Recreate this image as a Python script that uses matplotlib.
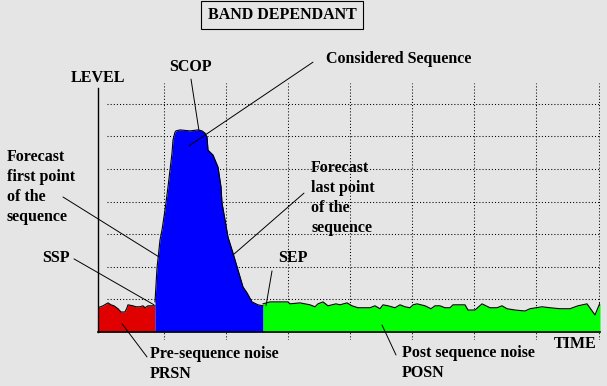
import matplotlib
matplotlib.use("Agg")
from matplotlib import pyplot as plt

# time in samples, level in grid units
pre_t = [0, 5, 10, 13, 16, 20, 23, 27, 29, 30, 35, 38, 42, 45, 47, 50, 55, 57]
pre_lv = [0.74, 0.80, 0.89, 0.83, 0.80, 0.71, 0.61, 0.61, 0.74, 0.83, 0.80, 0.77,
          0.77, 0.80, 0.74, 0.80, 0.80, 0.80]

seq_t = [57, 59, 62, 64, 67, 70, 72, 74, 75, 77, 78, 82, 92, 100, 104, 107, 109,
         110, 115, 120, 123, 124, 127, 130, 135, 140, 145, 149, 154, 160, 165]
seq_lv = [0.92, 1.96, 2.82, 3.13, 3.74, 4.45, 4.97, 5.49, 5.89, 6.13, 6.17, 6.20,
          6.17, 6.20, 6.17, 6.10, 5.98, 5.58, 5.43, 5.06, 4.45, 3.96, 3.44, 2.91,
          2.42, 1.90, 1.38, 1.20, 0.92, 0.83, 0.80]

post_t = [165, 172, 182, 190, 192, 202, 207, 212, 217, 220, 225, 230, 234, 238,
          242, 249, 254, 260, 272, 277, 282, 285, 290, 297, 302, 307, 312, 315,
          319, 327, 333, 337, 342, 347, 352, 355, 367, 370, 377, 384, 392, 399,
          404, 409, 417, 427, 432, 444, 452, 462, 472, 480, 489, 497, 502]
post_lv = [0.86, 0.92, 0.92, 0.92, 0.86, 0.89, 0.86, 0.83, 0.77, 0.86, 0.92, 0.80,
           0.83, 0.86, 0.83, 0.89, 0.80, 0.74, 0.74, 0.80, 0.71, 0.83, 0.80, 0.74,
           0.83, 0.77, 0.74, 0.83, 0.86, 0.80, 0.71, 0.80, 0.80, 0.74, 0.74, 0.83,
           0.83, 0.67, 0.67, 0.86, 0.74, 0.74, 0.80, 0.71, 0.67, 0.64, 0.71, 0.77,
           0.74, 0.71, 0.71, 0.80, 0.86, 0.52, 0.89]

time_grid = [66, 128, 190, 252, 314, 376, 438, 501]
level_grid = [1, 2, 3, 4, 5, 6, 7]

bg = '#e5e5e5'
plt.rcParams['font.family'] = ['Liberation Serif', 'DejaVu Serif']
plt.rcParams['font.weight'] = 'bold'
fs = 11.5

fig = plt.figure(figsize=(6.07, 3.86), dpi=100, facecolor=bg)
ax = fig.add_axes([98/607, 46/386, 502/607, 257/386])
ax.set_facecolor(bg)
ax.set_xlim(0, 502)
ax.set_ylim(-0.25, 7.64)

ax.vlines(time_grid, -0.25, 7.64, colors='black', linestyles=(0, (1, 2)), lw=0.75, zorder=1)
ax.hlines(level_grid, 9, 502, colors='black', linestyles=(0, (1, 2)), lw=0.75, zorder=1)

for t, lv, c in [(pre_t, pre_lv, '#e00000'), (seq_t, seq_lv, '#0000ff'), (post_t, post_lv, '#00ff00')]:
    ax.fill_between(t, 0, lv, color=c, lw=0, zorder=2)
    ax.plot(t, lv, color='black', lw=0.8, zorder=3)

for s in ['top', 'right']:
    ax.spines[s].set_visible(False)
ax.spines['left'].set_bounds(0, 7.48)
ax.spines['bottom'].set_position(('data', 0))
ax.spines['left'].set_linewidth(1.0)
ax.spines['bottom'].set_linewidth(1.2)
ax.spines['left'].set_zorder(4)
ax.spines['bottom'].set_zorder(4)
ax.set_xticks([])
ax.set_yticks([])

fig.text(282/607, 1 - 15/386, 'BAND DEPENDANT', ha='center', va='center', fontsize=fs,
         bbox=dict(boxstyle='square,pad=0.4', fc='none', ec='black', lw=0.8))

ax.text(-0.5, 7.79, 'LEVEL', ha='center', va='center', fontsize=fs)
ax.text(92.5, 8.13, 'SCOP', ha='center', va='center', fontsize=fs)
ax.text(228, 8.37, 'Considered Sequence', va='center', fontsize=fs)
for i, s in enumerate(['Forecast', 'first point', 'of the', 'sequence']):
    ax.text(-91, 5.37 - 0.613 * i, s, va='center', fontsize=fs)
for i, s in enumerate(['Forecast', 'last point', 'of the', 'sequence']):
    ax.text(213, 5.03 - 0.613 * i, s, va='center', fontsize=fs)
ax.text(-56, 2.27, 'SSP', va='center', fontsize=fs)
ax.text(180, 2.27, 'SEP', va='center', fontsize=fs)
ax.text(52, -0.98, 'Pre-sequence noise\nPRSN', va='center', fontsize=fs, linespacing=1.3)
ax.text(304, -0.64, 'Post sequence noise', va='center', fontsize=fs)
ax.text(304, -1.26, 'POSN', va='center', fontsize=fs)
ax.text(456, -0.37, 'TIME', va='center', fontsize=fs)

leaders = [((93, 7.76), (101, 6.17)),
           ((215, 8.28), (91, 5.71)),
           ((-35, 4.14), (61, 2.30)),
           ((-24, 2.24), (56, 0.83)),
           ((206, 4.26), (135, 2.36)),
           ((174, 1.87), (168, 0.80)),
           ((49, -0.77), (24, 0.25)),
           ((298, -0.71), (284, 0.21))]
for a, b in leaders:
    ax.annotate('', xy=b, xytext=a, arrowprops=dict(arrowstyle='-', color='black', lw=0.7,
                                                   shrinkA=0, shrinkB=0), zorder=5)

fig.savefig('out.png', dpi=100, facecolor=bg)
